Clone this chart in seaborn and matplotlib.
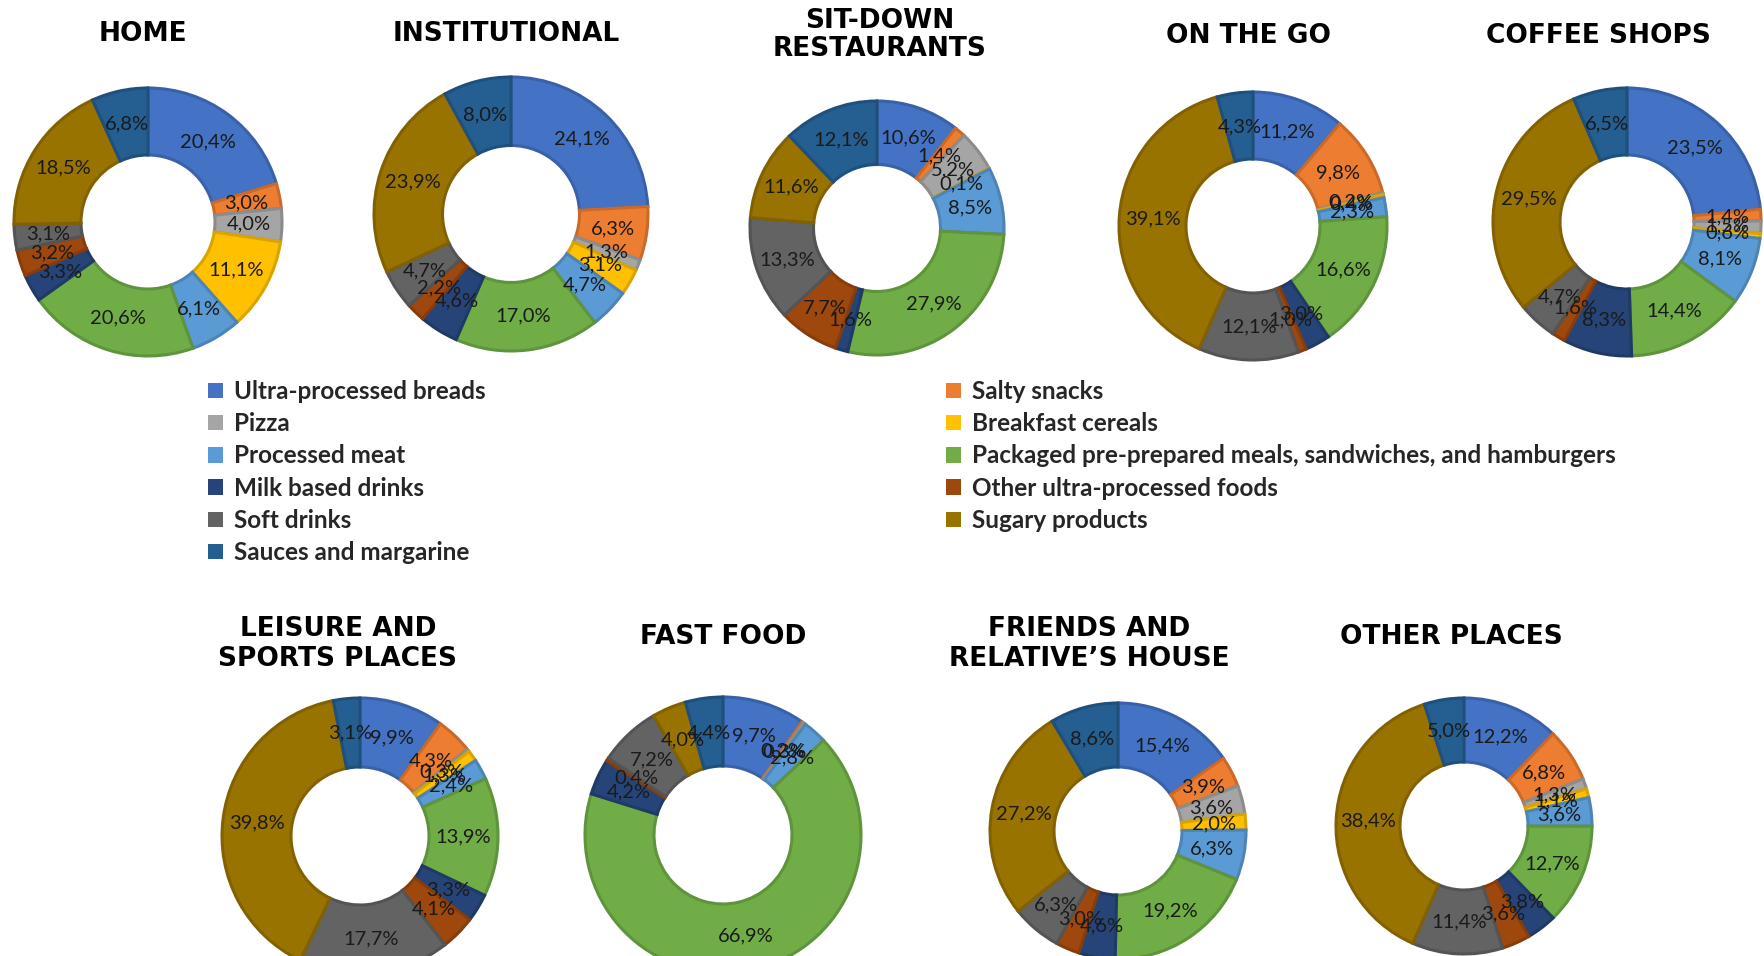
import matplotlib
matplotlib.use("Agg")
import matplotlib.pyplot as plt
import matplotlib.colors as mcolors
from matplotlib.patches import Patch
import seaborn as sns

# ---------------- data ----------------
categories = [
    "Ultra-processed breads", "Salty snacks", "Pizza", "Breakfast cereals",
    "Processed meat", "Packaged pre-prepared meals, sandwiches, and hamburgers",
    "Milk based drinks", "Other ultra-processed foods", "Soft drinks",
    "Sugary products", "Sauces and margarine",
]
colors_hex = ["#4472C4", "#ED7D31", "#A5A5A5", "#FFC000", "#5B9BD5", "#70AD47",
              "#264478", "#9E480E", "#636363", "#997300", "#255E91"]

places = ["HOME", "INSTITUTIONAL", "SIT-DOWN\nRESTAURANTS", "ON THE GO", "COFFEE SHOPS",
          "LEISURE AND\nSPORTS PLACES", "FAST FOOD", "FRIENDS AND\nRELATIVE\u2019S HOUSE",
          "OTHER PLACES"]

home          = [20.4, 3.0, 4.0, 11.1, 6.1, 20.6, 3.3, 3.2, 3.1, 18.5, 6.8]
institutional = [24.1, 6.3, 1.3, 3.1, 4.7, 17.0, 4.6, 2.2, 4.7, 23.9, 8.0]
sit_down      = [10.6, 1.4, 5.2, 0.1, 8.5, 27.9, 1.6, 7.7, 13.3, 11.6, 12.1]
on_the_go     = [11.2, 9.8, 0.2, 0.4, 2.3, 16.6, 3.0, 1.0, 12.1, 39.1, 4.3]
coffee_shops  = [23.5, 1.4, 1.5, 0.6, 8.1, 14.4, 8.3, 1.6, 4.7, 29.5, 6.5]
leisure       = [9.9, 4.3, 0.3, 1.3, 2.4, 13.9, 3.3, 4.1, 17.7, 39.8, 3.1]
fast_food     = [9.7, 0.2, 0.3, 0.0, 2.8, 66.9, 4.2, 0.4, 7.2, 4.0, 4.4]
friends       = [15.4, 3.9, 3.6, 2.0, 6.3, 19.2, 4.6, 3.0, 6.3, 27.2, 8.6]
other_places  = [12.2, 6.8, 1.3, 1.1, 3.6, 12.7, 3.8, 3.6, 11.4, 38.4, 5.0]

series = [home, institutional, sit_down, on_the_go, coffee_shops,
          leisure, fast_food, friends, other_places]

# ---------------- layout (pixels) ----------------
W, H = 1764, 956
donut_pos = [(148, 222, 134), (511, 214, 137), (877, 228, 127), (1253, 226, 134),
             (1627, 222, 134), (360, 836, 138), (723, 835, 138), (1118, 831, 128),
             (1464, 826, 128)]
title_pos = [(143, 34), (506, 34), (880, 35), (1249, 36), (1598, 36),
             (338, 644), (723, 637), (1089, 644), (1451, 637)]

sns.set_theme(style="white")
plt.rcParams["font.family"] = ["Lato", "DejaVu Sans"]

palette = sns.color_palette(colors_hex)


def darker(c, f=0.85):
    r, g, b = mcolors.to_rgb(c)
    return (r * f, g * f, b * f)


def fmt(v):
    return "" if v == 0 else f"{v:.1f}".replace(".", ",") + "%"


fig = plt.figure(figsize=(W / 100, H / 100), dpi=100)
fig.patch.set_facecolor("white")

for name, vals, (cx, cy, r), (tx, ty) in zip(places, series, donut_pos, title_pos):
    ax = fig.add_axes([(cx - r) / W, 1 - (cy + r) / H, 2 * r / W, 2 * r / H])
    it = iter([fmt(v) for v in vals])
    wedges, texts, autotexts = ax.pie(
        vals, colors=palette, startangle=90, counterclock=False, radius=1.0,
        wedgeprops=dict(width=0.5, linewidth=2.2),
        autopct=lambda p: next(it), pctdistance=0.75,
        textprops=dict(fontsize=14.5, color="#1a1a1a"))
    for w, c in zip(wedges, palette):
        w.set_edgecolor(darker(c))
        w.set_clip_on(False)
    ax.set_xlim(-1, 1)
    ax.set_ylim(-1, 1)
    ax.set_aspect("equal")
    ax.set_axis_off()
    fig.text(tx / W, 1 - ty / H, name, ha="center", va="center", fontsize=19,
             fontweight="bold", family=["DejaVu Sans"], linespacing=1.15,
             color="black")

# ---------------- legends ----------------
handles = [Patch(facecolor=c, edgecolor="none") for c in palette]
left_idx = [0, 2, 4, 6, 8, 10]
right_idx = [1, 3, 5, 7, 9]
legprops = dict(family=["Lato", "DejaVu Sans"], weight="bold", size=17.5)
common = dict(frameon=False, loc="upper left", borderpad=0, borderaxespad=0,
              handlelength=0.6, handleheight=0.6, handletextpad=0.45,
              labelspacing=0.38, prop=legprops)
fig.legend([handles[i] for i in left_idx], [categories[i] for i in left_idx],
           bbox_to_anchor=(208 / W, 1 - 380 / H), **common)
fig.legend([handles[i] for i in right_idx], [categories[i] for i in right_idx],
           bbox_to_anchor=(946 / W, 1 - 380 / H), **common)

fig.savefig("out.png", dpi=100)
